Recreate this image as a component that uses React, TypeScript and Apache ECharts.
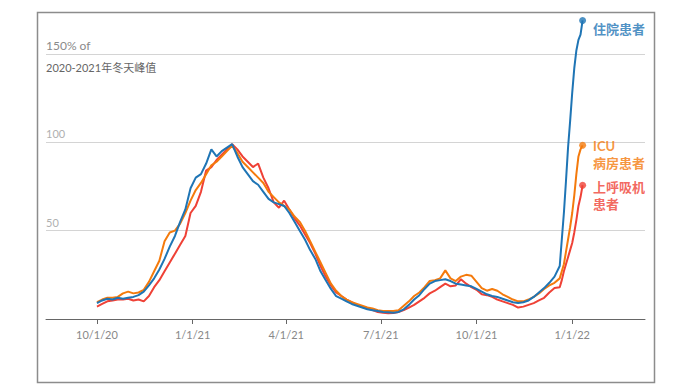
import React, { useEffect, useRef } from "react";
import * as echarts from "echarts";

// Day offsets from 2020-10-01 (5-day steps, then 2-day steps in the final surge)
const START = Date.UTC(2020, 9, 1);
const DAY = 86400000;
const DAY_OFFSETS: number[] = [];
for (let d = 0; d <= 445; d += 5) DAY_OFFSETS.push(d);
for (let d = 447; d <= 467; d += 2) DAY_OFFSETS.push(d);

const hospitalized = [
  9, 10.5, 11.5, 11, 12, 11.5, 12, 12.5, 13.5, 15.5,
  19, 23, 28, 34, 41, 47, 55, 62, 74, 80,
  82, 88, 96, 92, 95, 97, 99, 92, 86, 82,
  78, 76, 72, 68, 66, 65, 64, 60, 55, 50,
  45, 39, 34, 27, 22, 17, 13, 11.5, 10, 8.5,
  7.5, 6.5, 5.5, 5, 4.5, 4, 3.8, 3.6, 4, 5.5,
  8, 11, 13.5, 17, 20, 21.5, 22, 22.5, 21.5, 20,
  19.5, 19, 18.5, 17, 15.5, 14, 13, 12.5, 11.5, 10.5,
  9.5, 9, 9.5, 10.5, 12.5, 15, 17.5, 20.5, 24, 30,
  45, 60, 78, 97, 112, 128, 142, 152, 158, 161, 169,
];

const icu = [
  9.5, 11, 12, 12, 12.5, 14.5, 15.5, 14.5, 15, 16.5,
  21, 27, 33, 44, 49, 50, 54, 60, 67, 73,
  77, 82, 87, 89, 92, 95, 98, 94, 89, 86,
  83, 80, 77, 72, 69, 66, 64, 62, 58, 55,
  50, 44, 38, 32, 26, 20, 16, 13, 11, 9.5,
  8.5, 7.5, 6.5, 6, 5, 4.5, 4.5, 4.5, 5, 7.5,
  10, 13, 15, 18, 21.5, 22, 23, 27.5, 23, 21.5,
  24, 25, 24.5, 21, 17.5, 16, 17, 16, 14, 12.5,
  11, 10, 10, 11, 12.5, 14.5, 17, 19, 20.5, 23,
  27, 31, 38, 45, 52, 60, 70, 82, 92, 96, 98.3,
];

const ventilator = [
  7, 8.5, 10, 10.5, 11, 11, 11.5, 10.5, 11, 10,
  13, 18, 22, 27, 32, 37, 42, 47, 60, 64,
  72, 84, 86, 90, 93, 96, 99, 96, 92, 89,
  86, 88, 80, 74, 66, 63, 67, 62, 57, 53,
  48, 43, 37, 30, 24, 19, 15, 13, 11, 9.5,
  8, 7, 6, 5, 4, 3.5, 3.2, 3.4, 4, 5,
  6.5, 8, 10, 12, 14.5, 16, 18, 20, 18.5, 19,
  22.5, 20, 18, 16.5, 14, 13.5, 12.5, 11, 10, 9,
  8, 6.5, 7, 8, 9, 10.5, 12, 15, 17.5, 18,
  22, 27, 31, 35, 39, 43, 49, 56, 64, 69, 75.7,
];

// Quarter ticks, as day offsets from 2020-10-01
const TICK_DATES = [
  Date.UTC(2020, 9, 1),
  Date.UTC(2021, 0, 1),
  Date.UTC(2021, 3, 1),
  Date.UTC(2021, 6, 1),
  Date.UTC(2021, 9, 1),
  Date.UTC(2022, 0, 1),
];
const TICK_DAYS = TICK_DATES.map((t) => Math.round((t - START) / DAY));
const X_MIN = Math.round((Date.UTC(2020, 7, 13) - START) / DAY);
const X_MAX = Math.round((Date.UTC(2022, 2, 12) - START) / DAY);

const SERIES = [
  { name: "上呼吸机\n患者", values: ventilator, color: "#ef4136", offset: [2, 10] },
  { name: "ICU\n病房患者", values: icu, color: "#f47a0c", offset: [2, 9] },
  { name: "住院患者", values: hospitalized, color: "#1f75b5", offset: [2, 9] },
];

const FONT = 'Lato, "Noto Sans CJK SC", sans-serif';

function fmtDay(d: number) {
  const dt = new Date(START + d * DAY);
  return `${dt.getUTCMonth() + 1}/${dt.getUTCDate()}/${String(dt.getUTCFullYear()).slice(2)}`;
}

export default function App() {
  const ref = useRef<HTMLDivElement>(null);
  useEffect(() => {
    document.body.style.margin = "0";
    if (!ref.current) return;
    const chart = echarts.init(ref.current, null, { renderer: "svg" });
    const lineSeries = SERIES.map((s) => ({
      type: "line",
      name: s.name,
      data: s.values.map((v, i) => [DAY_OFFSETS[i], v]),
      showSymbol: false,
      symbol: "none",
      clip: false,
      lineStyle: { color: s.color, width: 2 },
      itemStyle: { color: s.color },
      z: 2,
    }));
    const endSeries = SERIES.map((s) => {
      const i = s.values.length - 1;
      return {
        type: "scatter",
        name: s.name + "-end",
        data: [[DAY_OFFSETS[i], s.values[i]]],
        symbolSize: 7,
        clip: false,
        itemStyle: { color: s.color },
        z: 3,
        label: {
          show: true,
          position: "right",
          offset: s.offset,
          formatter: () => s.name,
          color: s.color,
          fontSize: 13,
          fontWeight: "bold",
          lineHeight: 17,
          fontFamily: FONT,
        },
      };
    });
    chart.setOption({
      animation: false,
      textStyle: { fontFamily: FONT },
      grid: { left: 46, right: 45, top: 54, bottom: 71, containLabel: false },
      xAxis: {
        type: "value",
        min: X_MIN,
        max: X_MAX,
        axisLine: { show: true, lineStyle: { color: "#666", width: 1 } },
        axisTick: { show: true, length: 5, customValues: TICK_DAYS, lineStyle: { color: "#666" } },
        axisLabel: {
          customValues: TICK_DAYS,
          showMinLabel: true,
          showMaxLabel: true,
          color: "#888",
          fontSize: 11,
          margin: 10,
          fontFamily: FONT,
          formatter: (v: number) => fmtDay(v),
        },
        splitLine: { show: false },
      },
      yAxis: {
        type: "value",
        min: 0,
        max: 150,
        interval: 50,
        axisLine: { show: false },
        axisTick: { show: false },
        splitLine: { lineStyle: { color: "#d4d4d4", width: 1 } },
        axisLabel: {
          inside: true,
          margin: 0,
          verticalAlign: "bottom",
          padding: [0, 0, 3, 0],
          color: "#b0b0b0",
          fontSize: 11,
          fontFamily: FONT,
          formatter: (v: number) => (v === 0 ? "" : v === 150 ? "{a|150% of}" : String(v)),
          rich: { a: { color: "#8a8a8a", fontSize: 12, fontFamily: FONT } },
        },
      },
      graphic: [
        {
          type: "rect",
          shape: { x: 37.5, y: 12.5, width: 617, height: 370 },
          style: { fill: "none", stroke: "#8c8c8c", lineWidth: 1.5 },
          silent: true,
        },
        {
          type: "text",
          left: 46,
          top: 62,
          style: { text: "2020-2021年冬天峰值", fill: "#666", fontSize: 11, fontFamily: FONT },
        },
      ],
      series: [...lineSeries, ...endSeries],
    });
    return () => chart.dispose();
  }, []);
  return <div ref={ref} style={{ width: 690, height: 390 }} />;
}
